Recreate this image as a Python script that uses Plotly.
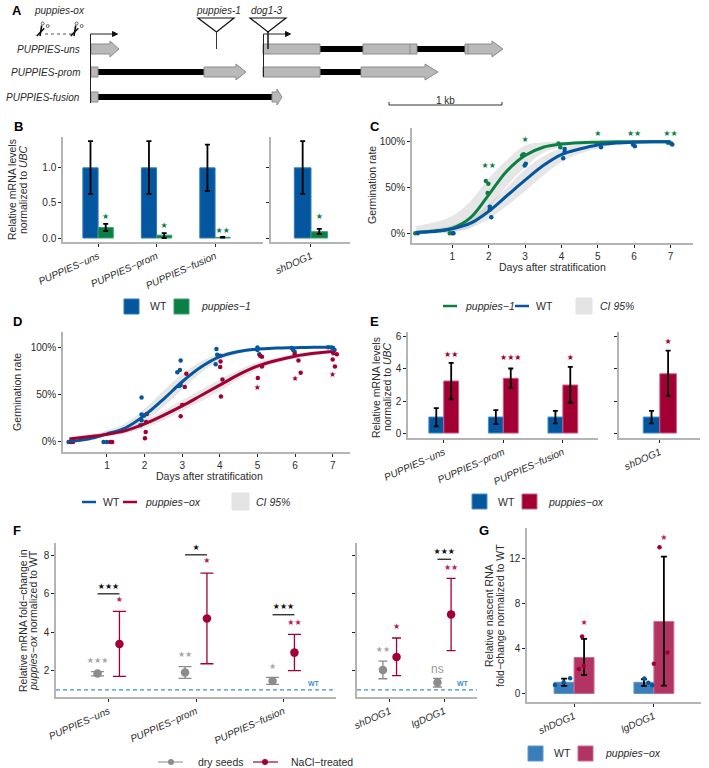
import plotly.graph_objects as go

W, H = 709, 768
BLUE = '#04569F'
GREEN = '#0B7F45'
RED = '#A20035'
BLUE_G = '#3B7DB8'
RED_G = '#B23462'
GREY_PT = '#8C8C8C'
AXIS = '#B4B4B4'
TXT = '#2B2B2B'
FONT = 'Liberation Sans'

# --- panel B
genes = ['PUPPIES−uns', 'PUPPIES−prom', 'PUPPIES−fusion']
b_wt = [1, 1, 1]
b_wt_lo = [0.63, 0.63, 0.67]
b_wt_hi = [1.38, 1.38, 1.33]
b_mut = [0.15, 0.04, 0.01]
b_mut_lo = [0.10, 0.0, 0.005]
b_mut_hi = [0.20, 0.07, 0.015]
b_stars = ['★', '★', '★★']
b_stars_y = [0.30, 0.17, 0.10]
b2_wt, b2_wt_lo, b2_wt_hi = [1], [0.63], [1.38]
b2_mut, b2_mut_lo, b2_mut_hi = [0.09], [0.06], [0.13]
b2_stars_y = [0.30]

# --- panel C
days = [0, 0.5, 1, 1.5, 2, 2.5, 3, 3.5, 4, 4.5, 5, 5.5, 6, 6.5, 7]
c_mut = [1, 2.5, 5.5, 17, 42, 68, 85, 94, 97.5, 99, 99.5, 100, 100, 100, 100]
c_mut_up = [8, 12, 19, 35, 60, 80, 96, 99.5, 100, 100, 100, 100, 100, 100, 100]
c_mut_lo = [0, 0, 1, 6, 27, 52, 72, 88, 94, 97, 99, 100, 100, 100, 100]
c_wt = [1, 2, 5, 11, 24, 41, 58, 74, 86, 92, 96.5, 98.5, 99.5, 100, 100]
c_wt_up = [3, 5, 9, 17, 32, 50, 70, 84, 93, 97, 99, 100, 100, 100, 100]
c_wt_lo = [0, 0, 2, 6, 16, 30, 46, 63, 78, 87, 93, 97, 99, 100, 100]
c_mut_px = [-0.02, 0.93, 1.0, 1.92, 1.99, 1.97, 2.92, 2.95, 2.97, 3.92, 3.97, 4.98, 5.97, 6.93]
c_mut_py = [0, 0, 0, 57, 54, 44, 85, 86, 86, 98, 94, 98, 99, 99]
c_wt_px = [0.05, 1.03, 2.03, 2.03, 2.07, 3.02, 2.99, 4.09, 4.09, 4.05, 5.09, 5.97, 6.02, 7.02, 7.05]
c_wt_py = [0, 0, 29, 26, 17.5, 76, 74, 92, 89, 82, 94, 97, 95, 98, 97]
c_star_x = [2, 3, 5, 6, 7]
c_star_y = [74, 102, 109, 109, 109]
c_star_txt = ['★★', '★', '★', '★★', '★★']

# --- panel D
d_wt = [0.5, 3, 8.5, 15, 28, 45, 63.5, 79, 90, 95.5, 98, 99, 99.5, 100, 100]
d_wt_up = [2, 5, 12, 20, 35, 54, 72, 85, 93, 97, 99, 100, 100, 100, 100]
d_wt_lo = [0, 1, 6, 11, 22, 37, 55, 73, 86, 93, 97, 98, 99, 99, 99]
d_ox = [3, 5.5, 8, 12, 19, 28, 38, 49, 60, 71, 80, 86, 90.5, 93.5, 95.5]
d_ox_up = [5, 8, 11, 15, 23, 33, 44, 55, 66, 76, 84, 89, 93, 95.5, 97]
d_ox_lo = [1, 3, 6, 9, 15, 23, 33, 43, 54, 66, 76, 83, 88, 91.5, 94]
d_wt_px = [-0.02, 0.91, 1.0, 1.92, 1.92, 1.92, 1.89, 1.99, 2.96, 2.94, 2.87, 2.92, 2.96, 3.91, 3.89, 3.93, 4.01, 5.0, 5.0, 5.05, 5.91, 5.95, 5.99, 6.88, 6.97, 7.01, 7.05]
d_wt_py = [0, 0, 0, 47, 29, 23, 17.5, 28, 86, 76, 73.5, 59, 60, 98, 82, 92, 91, 99.6, 97, 92.5, 99, 97, 95, 100, 99.6, 99, 97]
d_ox_px = [0.05, 0.1, 1.09, 1.14, 2.01, 2.03, 2.04, 2.06, 2.96, 3.0, 3.07, 3.11, 4.03, 4.07, 4.01, 4.02, 5.01, 5.12, 5.07, 5.12, 5.99, 6.09, 6.15, 7.0, 7.06, 7.11, 7.02]
d_ox_py = [0, 0, 0, 0, 4, 10.5, 21, 29.5, 27, 39, 58, 72, 48, 66, 79, 85, 67.5, 79.5, 91, 90, 92.5, 86, 73, 87, 79.5, 92.5, 93.6]
d_star_x = [5, 6, 7]
d_star_y = [56.5, 66, 71]

# --- panel E
e_wt = [1, 1, 1]
e_wt_lo = [0.42, 0.56, 0.60]
e_wt_hi = [1.56, 1.43, 1.39]
e_ox = [3.25, 3.42, 3.0]
e_ox_lo = [2.1, 2.8, 1.89]
e_ox_hi = [4.38, 4.03, 4.13]
e_stars = ['★★', '★★★', '★']
e_stars_y = [4.88, 4.69, 4.69]
e2_wt, e2_wt_lo, e2_wt_hi = [1], [0.60], [1.39]
e2_ox, e2_ox_lo, e2_ox_hi = [3.7], [2.3], [5.15]
e2_stars_y = [5.7]

# --- panel F
f_dry = [1.85, 1.91, 1.46]
f_dry_lo = [1.73, 1.6, 1.29]
f_dry_hi = [1.95, 2.21, 1.65]
f_nacl = [3.39, 4.72, 2.94]
f_nacl_lo = [1.7, 2.36, 2.0]
f_nacl_hi = [5.09, 7.08, 3.89]
f_dry_stars = ['★★★', '★★', '★']
f_dry_stars_y = [2.49, 2.8, 2.2]
f_nacl_stars = ['★', '★', '★★']
f_nacl_stars_y = [5.69, 7.69, 4.48]
f_cmp_stars = ['★★★', '★', '★★★']
f_cmp_y = [6.0, 8.03, 4.91]
f2_genes = ['shDOG1', 'lgDOG1']
f2_dry = [2.03, 1.38]
f2_dry_lo = [1.58, 1.15]
f2_dry_hi = [2.5, 1.6]
f2_nacl = [2.71, 4.93]
f2_nacl_lo = [1.74, 3.04]
f2_nacl_hi = [3.7, 6.8]
f2_dry_stars = ['★★', 'ns']
f2_dry_stars_y = [3.09, 2.05]
f2_nacl_stars = ['★', '★★']
f2_nacl_stars_y = [4.27, 7.33]
f2_cmp_y = [7.8]

# --- panel G
g_wt = [1, 1]
g_wt_lo = [0.68, 0.68]
g_wt_hi = [1.33, 1.27]
g_ox = [3.2, 6.4]
g_ox_lo = [1.63, 0.7]
g_ox_hi = [4.86, 12.15]
g_wt_px = [-0.24, -0.05, -0.13, 0.88, 0.93, 0.98]
g_wt_py = [0.77, 1.36, 1.0, 1.33, 0.95, 0.74]
g_ox_px = [0.06, 0.12, 0.10, 1.0, 1.17, 1.07]
g_ox_py = [2.19, 2.46, 5.07, 2.64, 3.64, 12.98]
g_stars_y = [6.28, 13.84]

# --- panel A, gene models along the schematic
rows_y = [49, 72, 97]
row_names = ['PUPPIES-uns', 'PUPPIES-prom', 'PUPPIES-fusion']
left_boxes = [(91, 98), (91, 98)]
left_lines = [(98, 204), (98, 272)]
left_arrows = [(91, 110, 119, 0), (204, 236, 246, 1), (272, 277, 282, 2)]
right_boxes = [(263, 320, 0), (363, 417, 0), (263, 320, 1)]
right_lines = [(320, 363, 0), (417, 465, 0), (320, 361, 1)]
right_arrows = [(465, 492, 503, 0), (361, 425, 438, 1)]

fig = go.Figure()
shapes, annots = [], []
layout_axes = {}
n_axes = 0


def px(x):
    return x / W


def py(y):
    return 1 - y / H


def add_axes(box, xr, yr, tickvals=None, ticktext=None, yvals=None, ytext=None,
             yfmt=None, angle=-24):
    global n_axes
    n_axes += 1
    x0, y0, x1, y1 = box
    s = '' if n_axes == 1 else str(n_axes)
    common = dict(showgrid=False, zeroline=False, showline=True, linecolor=AXIS, automargin=False,
                  linewidth=1.5, ticks='outside', ticklen=3, tickwidth=1,
                  tickcolor='#222222', tickfont=dict(family=FONT, size=10, color=TXT))
    layout_axes['xaxis' + s] = dict(common, domain=[px(x0), px(x1)], range=xr,
                                    anchor='y' + s, tickmode='array', tickvals=tickvals,
                                    ticktext=ticktext, tickangle=angle)
    layout_axes['yaxis' + s] = dict(common, domain=[py(y1), py(y0)], range=yr,
                                    anchor='x' + s, tickmode='array', tickvals=yvals,
                                    ticktext=ytext, showticklabels=ytext is not None)
    return 'x' + s, 'y' + s


def ital(items):
    return ['<i>%s</i>' % t for t in items]


def text(x, y, t, size=10.5, color=TXT, anchor='left', angle=0, bold=False, family=FONT):
    annots.append(dict(x=px(x), y=py(y), xref='paper', yref='paper', text=('<b>%s</b>' % t) if bold else t,
                       showarrow=False, xanchor=anchor, yanchor='middle', textangle=angle,
                       font=dict(family=family, size=size, color=color)))


def rect(x0, y0, x1, y1, fill, line=None, lw=1):
    shapes.append(dict(type='rect', xref='paper', yref='paper', x0=px(x0), y0=py(y0), x1=px(x1), y1=py(y1),
                       fillcolor=fill, line=dict(color=line or fill, width=lw)))


def seg(x0, y0, x1, y1, color='black', lw=1, dash=None):
    shapes.append(dict(type='line', xref='paper', yref='paper', x0=px(x0), y0=py(y0), x1=px(x1), y1=py(y1),
                       line=dict(color=color, width=lw, dash=dash)))


def poly(pts, fill, line=None, lw=1):
    path = 'M ' + ' L '.join('%f,%f' % (px(a), py(b)) for a, b in pts) + ' Z'
    shapes.append(dict(type='path', xref='paper', yref='paper', path=path, fillcolor=fill,
                       line=dict(color=line or fill, width=lw)))


def dot(cx, cy, r, fill, line=None, lw=0):
    shapes.append(dict(type='circle', xref='paper', yref='paper', x0=px(cx - r), x1=px(cx + r), y0=py(cy + r), y1=py(cy - r),
                       fillcolor=fill, line=dict(color=line or fill, width=lw)))


def err(vals, lo, hi, w, thick=1.8, color='black'):
    return dict(type='data', symmetric=False, array=[h - v for h, v in zip(hi, vals)],
                arrayminus=[v - l for v, l in zip(vals, lo)], color=color, thickness=thick, width=w)


def bars(ax, pos, vals, lo, hi, color, width, offset, line, opacity=1, cap=2.5):
    fig.add_trace(go.Bar(x=pos, y=vals, width=width, offset=offset, xaxis=ax[0], yaxis=ax[1],
                         marker=dict(color=color, opacity=opacity, line=dict(color=line, width=1)),
                         error_y=err(vals, lo, hi, cap), showlegend=False))


def stars(ax, xs, ys, labels, color, size=8):
    fig.add_trace(go.Scatter(x=xs, y=ys, text=labels, mode='text', xaxis=ax[0], yaxis=ax[1],
                             textposition='middle center', cliponaxis=False, showlegend=False,
                             textfont=dict(family='DejaVu Sans', size=size, color=color)))


def band(ax, xs, up, lo):
    fig.add_trace(go.Scatter(x=xs, y=up, mode='lines', line=dict(width=0, shape='spline'),
                             xaxis=ax[0], yaxis=ax[1], showlegend=False))
    fig.add_trace(go.Scatter(x=xs, y=lo, mode='lines', line=dict(width=0, shape='spline'),
                             fill='tonexty', fillcolor='rgba(190,190,190,0.38)',
                             xaxis=ax[0], yaxis=ax[1], showlegend=False))


def curve(ax, xs, ys, color):
    fig.add_trace(go.Scatter(x=xs, y=ys, mode='lines', line=dict(color=color, width=3, shape='spline'),
                             xaxis=ax[0], yaxis=ax[1], showlegend=False))


def pts(ax, xs, ys, color, size=4.5):
    fig.add_trace(go.Scatter(x=xs, y=ys, mode='markers', marker=dict(color=color, size=size),
                             xaxis=ax[0], yaxis=ax[1], showlegend=False))


def dodged(ax, pos, vals, lo, hi, color, off, cap=6.5):
    fig.add_trace(go.Scatter(x=[p + off for p in pos], y=vals, mode='markers',
                             marker=dict(color=color, size=8.5), xaxis=ax[0], yaxis=ax[1],
                             error_y=err(vals, lo, hi, cap, 1.3, color), showlegend=False))


pos3 = list(range(3))
WT_DASH = dict(color='#3D8FD6', width=1.3, dash='4px,3px')

# B
ax = add_axes((63, 137, 263, 242), [-0.6, 2.82], [-0.057, 1.44], pos3, ital(genes), [0, 0.5, 1], ['0.0', '0.5', '1.0'])
bars(ax, pos3, b_wt, b_wt_lo, b_wt_hi, BLUE, 0.26, -0.26, '#2E78B8')
bars(ax, pos3, b_mut, b_mut_lo, b_mut_hi, GREEN, 0.26, 0, '#3BA06E')
stars(ax, [p + 0.13 for p in pos3], b_stars_y, b_stars, GREEN)
ax = add_axes((271, 137, 350, 242), [-0.625, 0.61], [-0.057, 1.44], [0], ital(['shDOG1']), [0, 0.5, 1])
bars(ax, [0], b2_wt, b2_wt_lo, b2_wt_hi, BLUE, 0.26, -0.26, '#2E78B8')
bars(ax, [0], b2_mut, b2_mut_lo, b2_mut_hi, GREEN, 0.26, 0, '#3BA06E')
stars(ax, [0.13], b2_stars_y, ['★'], GREEN)

# C
pct = ['0%', '50%', '100%']
dticks = [1, 2, 3, 4, 5, 6, 7]
dlabels = [str(d) for d in dticks]
ax = add_axes((412, 128, 693, 243), [-0.11, 7.62], [-10.6, 115], dticks, dlabels, [0, 50, 100], pct, angle=0)
band(ax, days, c_mut_up, c_mut_lo)
band(ax, days, c_wt_up, c_wt_lo)
pts(ax, c_mut_px, c_mut_py, GREEN)
pts(ax, c_wt_px, c_wt_py, BLUE)
curve(ax, days, c_mut, GREEN)
curve(ax, days, c_wt, BLUE)
stars(ax, c_star_x, c_star_y, c_star_txt, GREEN)

# D
ax = add_axes((63, 332, 350, 452), [-0.168, 7.46], [-10.6, 116], dticks, dlabels, [0, 50, 100], pct, angle=0)
band(ax, days, d_wt_up, d_wt_lo)
band(ax, days, d_ox_up, d_ox_lo)
pts(ax, d_wt_px, d_wt_py, BLUE)
pts(ax, d_ox_px, d_ox_py, RED)
curve(ax, days, d_wt, BLUE)
curve(ax, days, d_ox, RED)
stars(ax, d_star_x, d_star_y, ['★'] * 3, RED)

# E
ax = add_axes((408, 332, 598, 438), [-0.6, 2.59], [-0.31, 6.31], pos3, ital(genes), [0, 2, 4, 6], ['0', '2', '4', '6'])
bars(ax, pos3, e_wt, e_wt_lo, e_wt_hi, BLUE, 0.25, -0.25, '#4C8FC8')
bars(ax, pos3, e_ox, e_ox_lo, e_ox_hi, RED, 0.25, 0, '#CC5C82')
stars(ax, [p + 0.125 for p in pos3], e_stars_y, e_stars, RED)
ax = add_axes((619, 332, 700, 438), [-0.64, 0.63], [-0.31, 6.31], [0], ital(['shDOG1']), [0, 2, 4, 6])
bars(ax, [0], e2_wt, e2_wt_lo, e2_wt_hi, BLUE, 0.26, -0.26, '#4C8FC8')
bars(ax, [0], e2_ox, e2_ox_lo, e2_ox_hi, RED, 0.26, 0, '#CC5C82')
stars(ax, [0.13], e2_stars_y, ['★'], RED)

# F
ax = add_axes((56, 543, 336, 697), [-0.6, 2.6], [0.63, 8.645], pos3, ital(genes), [2, 4, 6, 8], ['2', '4', '6', '8'])
fig.add_trace(go.Scatter(x=[-0.6, 2.6], y=[1, 1], mode='lines', line=WT_DASH,
                         xaxis=ax[0], yaxis=ax[1], showlegend=False))
dodged(ax, pos3, f_dry, f_dry_lo, f_dry_hi, GREY_PT, -0.125)
dodged(ax, pos3, f_nacl, f_nacl_lo, f_nacl_hi, RED, 0.125)
stars(ax, [p - 0.125 for p in pos3], f_dry_stars_y, f_dry_stars, '#A8A8A8')
stars(ax, [p + 0.125 for p in pos3], f_nacl_stars_y, f_nacl_stars, '#B8205A')
for p, y, s in zip(pos3, f_cmp_y, f_cmp_stars):
    fig.add_trace(go.Scatter(x=[p - 0.125, p + 0.125], y=[y, y], mode='lines', line=dict(color='#111111', width=1.2),
                             xaxis=ax[0], yaxis=ax[1], showlegend=False))
    stars(ax, [p], [y + 0.38], [s], '#111111')
ax = add_axes((357, 543, 477, 697), [-0.6, 1.6], [0.63, 8.645], [0, 1], ital(f2_genes), [2, 4, 6, 8])
fig.add_trace(go.Scatter(x=[-0.6, 1.6], y=[1, 1], mode='lines', line=WT_DASH,
                         xaxis=ax[0], yaxis=ax[1], showlegend=False))
dodged(ax, [0, 1], f2_dry, f2_dry_lo, f2_dry_hi, GREY_PT, -0.125, 4.5)
dodged(ax, [0, 1], f2_nacl, f2_nacl_lo, f2_nacl_hi, RED, 0.125, 4.5)
stars(ax, [-0.125], f2_dry_stars_y[:1], f2_dry_stars[:1], '#A8A8A8')
fig.add_trace(go.Scatter(x=[0.875], y=f2_dry_stars_y[1:], text=f2_dry_stars[1:], mode='text', xaxis=ax[0], yaxis=ax[1],
                         showlegend=False, textfont=dict(family=FONT, size=12, color='#999999')))
stars(ax, [0.125, 1.125], f2_nacl_stars_y, f2_nacl_stars, '#B8205A')
fig.add_trace(go.Scatter(x=[0.875, 1.125], y=f2_cmp_y * 2, mode='lines', line=dict(color='#111111', width=1.2),
                         xaxis=ax[0], yaxis=ax[1], showlegend=False))
stars(ax, [1], [f2_cmp_y[0] + 0.36], ['★★★'], '#111111')

# G
ax = add_axes((527, 528, 701, 702), [-0.59, 1.59], [-0.75, 14.7], [0, 1], ital(f2_genes), [0, 4, 8, 12], ['0', '4', '8', '12'])
bars(ax, [0, 1], g_wt, g_wt_lo, g_wt_hi, BLUE_G, 0.25, -0.25, '#5A97CC', cap=3)
bars(ax, [0, 1], g_ox, g_ox_lo, g_ox_hi, RED_G, 0.25, 0, '#D06A90', cap=3)
pts(ax, g_wt_px, g_wt_py, BLUE)
pts(ax, g_ox_px, g_ox_py, RED)
stars(ax, [0.125, 1.125], g_stars_y, ['★', '★'], '#B8205A')

# axis titles
for (x, y, t) in [(12, 190, 'Relative mRNA levels'), (23, 190, 'normalized to <i>UBC</i>'),
                  (372, 185, 'Germination rate'), (17, 392, 'Germination rate'),
                  (376, 387, 'Relative mRNA levels'), (387, 387, 'normalized to <i>UBC</i>'),
                  (23, 621, 'Relative mRNA fold−change in'), (33, 621, '<i>puppies−ox</i> normalized to WT'),
                  (489, 616, 'Relative nascent RNA'), (500, 616, 'fold−change normalized to WT')]:
    text(x, y, t, anchor='center', angle=-90)
text(552, 267, 'Days after stratification', anchor='center')
text(209, 476, 'Days after stratification', anchor='center')
text(314, 683, 'WT', size=7, color='#3D8FD6', anchor='center', bold=True)
text(463, 683, 'WT', size=7, color='#3D8FD6', anchor='center', bold=True)

# panel letters
for (x, y, t) in [(17, 10, 'A'), (18, 126, 'B'), (375, 126, 'C'), (17, 322, 'D'), (375, 322, 'E'), (17, 530, 'F'), (484, 530, 'G')]:
    text(x, y, t, size=13, color='black', anchor='center', bold=True)

# legends
rect(124, 299, 139, 314, BLUE, '#2E78B8')
text(148, 306, 'WT')
rect(174, 299, 189, 314, GREEN, '#3BA06E')
text(199, 306, '<i>puppies−1</i>')

seg(443, 306, 457, 306, GREEN, 2.5)
text(463, 306, '<i>puppies−1</i>')
seg(515, 306, 529, 306, BLUE, 2.5)
text(534, 306, 'WT')
rect(576, 298, 592, 314, '#E4E4E4')
text(598, 306, '<i>CI 95%</i>')

seg(82, 502, 96, 502, BLUE, 2.5)
text(101, 502, 'WT')
seg(123, 502, 137, 502, RED, 2.5)
text(143, 502, '<i>puppies−ox</i>')
rect(232, 493, 249, 510, '#E4E4E4')
text(254, 502, '<i>CI 95%</i>')

rect(472, 494, 487, 509, BLUE, '#4C8FC8')
text(496, 502, 'WT')
rect(522, 494, 537, 509, RED, '#CC5C82')
text(546, 502, '<i>puppies−ox</i>')

seg(158, 762, 183, 762, '#999999', 1.2)
dot(171, 762, 3, GREY_PT)
text(196, 762, 'dry seeds')
seg(253, 762, 278, 762, RED, 1.2)
dot(265, 762, 3, RED)
text(289, 762, 'NaCl−treated')

rect(528, 746, 543, 761, BLUE_G, '#5A97CC')
text(552, 753, 'WT')
rect(578, 746, 593, 761, RED_G, '#D06A90')
text(603, 753, '<i>puppies−ox</i>')

# --- panel A schematic
EX, EXL = '#B9B9B9', '#8C8C8C'


def arrow_exon(x0, x1, x2, yc):
    poly([(x0, yc - 5), (x1, yc - 5), (x1, yc - 8), (x2, yc), (x1, yc + 8), (x1, yc + 5), (x0, yc + 5)], EX, EXL)


for (a, b), yc in zip(left_lines, rows_y[1:]):
    rect(a, yc - 2.5, b, yc + 2.5, 'black')
for (a, b), yc in zip(left_boxes, rows_y[1:]):
    rect(a, yc - 5, b, yc + 5, EX, EXL)
for a, b, c, r in left_arrows:
    arrow_exon(a, b, c, rows_y[r])
for a, b, r in right_lines:
    rect(a, rows_y[r] - 2.5, b, rows_y[r] + 2.5, 'black')
for a, b, r in right_boxes:
    rect(a, rows_y[r] - 5, b, rows_y[r] + 5, EX, EXL)
for a, b, c, r in right_arrows:
    arrow_exon(a, b, c, rows_y[r])
seg(410, 44, 410, 54, EXL)
seg(468, 44, 468, 54, EXL)

# transcription starts
for x, y1 in [(90.5, 103), (263.5, 77)]:
    seg(x, 34, x, y1, '#222222', 1)
    seg(x, 34, x + 22, 34, '#222222', 1)
    poly([(x + 22, 31.5), (x + 27, 34), (x + 22, 36.5)], '#111111')

# insertions
poly([(198, 18), (234, 18), (216.5, 32)], 'rgba(255,255,255,0)', '#111111', 1.2)
seg(216.5, 32, 216.5, 49, '#333333', 1)
poly([(250, 18), (286, 18), (268, 32)], 'rgba(255,255,255,0)', '#111111', 1.2)
seg(268, 32, 268, 49, '#222222', 1.6)

# scale bar
seg(389, 105, 502, 105, '#333333', 1)
seg(389, 102, 389, 105, '#333333', 1)
seg(502, 102, 502, 105, '#333333', 1)
text(445, 100, '1 kb', size=10, anchor='center')

# scissors
seg(45, 34, 72, 34, '#555555', 1, 'dot')
for dx in (0, 34):
    seg(36.7 + dx, 36, 44.3 + dx, 28.3, '#111111', 1.6)
    seg(40 + dx, 36, 41.7 + dx, 25.5, '#111111', 1.6)
    dot(42.7 + dx, 23.5, 1.5, 'white', '#444444', 0.8)
    dot(47.7 + dx, 26, 1.5, 'white', '#444444', 0.8)

text(59, 10, '<i>puppies-ox</i>', size=10, anchor='center')
text(218, 11, '<i>puppies-1</i>', size=10, anchor='center')
text(267, 11, '<i>dog1-3</i>', size=10, anchor='center')
for yc, name in zip(rows_y, row_names):
    text(82, yc, '<i>%s</i>' % name, size=10, anchor='right')

fig.update_layout(width=W, height=H, margin=dict(l=0, r=0, t=0, b=0, autoexpand=False), paper_bgcolor='white',
                  plot_bgcolor='rgba(0,0,0,0)', barmode='overlay', shapes=shapes, annotations=annots,
                  showlegend=False, **layout_axes)
fig.write_html("out.html", config=dict(displayModeBar=False), post_script="document.body.style.margin='0';")
